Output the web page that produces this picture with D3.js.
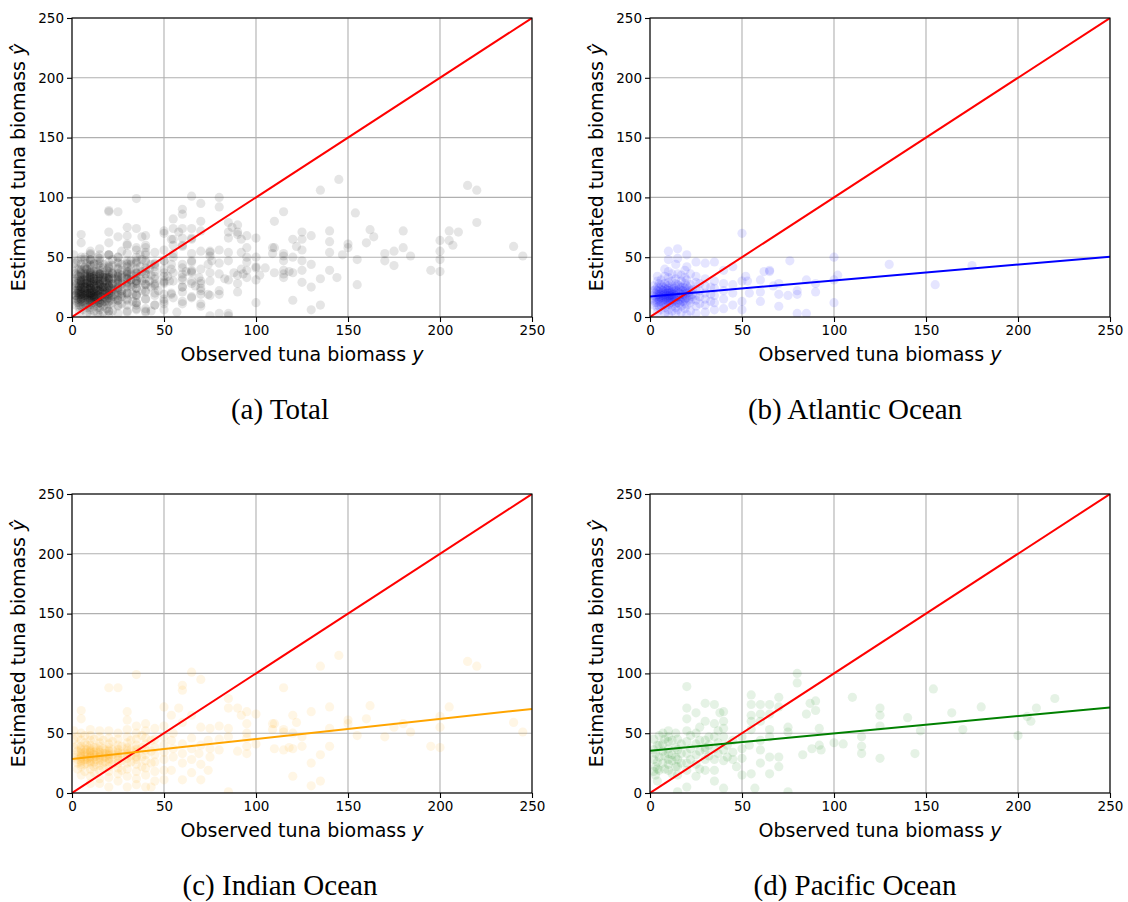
<!DOCTYPE html>
<html>
<head>
<meta charset="utf-8">
<script src="https://cdn.jsdelivr.net/npm/d3@7/dist/d3.min.js"></script>
<style>
body { margin: 0; background: #fff; }
</style>
</head>
<body>
<div id="chart"></div>
<script>
// observed biomass x -> estimated biomass values at that x
var atlanticCols = [
    [2, [10, 14, 18, 22, 26]],
    [3, [12, 15, 17, 20, 23]],
    [4, [4, 8, 12, 16, 19, 22, 25, 30, 34]],
    [5, [9, 13, 15, 17, 19, 21, 24, 28]],
    [6, [6, 10, 13, 16, 18, 20, 23, 27, 31]],
    [7, [11, 14, 16, 18, 20, 22, 25]],
    [8, [3, 8, 12, 15, 17, 19, 21, 24, 28, 34, 40]],
    [9, [10, 14, 16, 18, 20, 23, 26]],
    [10, [2, 6, 10, 13, 15, 17, 18, 20, 22, 24, 26, 29, 33, 38, 48, 55]],
    [11, [12, 14, 16, 18, 20, 22]],
    [12, [5, 9, 12, 15, 17, 19, 21, 23, 26, 30, 36]],
    [13, [13, 15, 17, 19, 21, 24]],
    [14, [3, 8, 11, 14, 16, 18, 20, 22, 25, 28, 32, 44]],
    [15, [6, 12, 17, 21, 27, 36, 49, 57]],
    [16, [11, 14, 17, 20, 23, 26]],
    [17, [4, 9, 13, 16, 19, 22, 25, 30, 35]],
    [18, [13, 16, 19, 22, 25]],
    [19, [7, 11, 15, 18, 21, 24, 28, 33, 39]],
    [20, [2, 10, 16, 20, 26, 31, 42, 52]],
    [21, [14, 18, 21, 24]],
    [22, [5, 12, 17, 22, 27, 36]],
    [23, [15, 19, 23]],
    [25, [3, 9, 14, 18, 23, 29, 34, 46]],
    [27, [11, 17, 22, 28]],
    [30, [4, 10, 15, 20, 26, 32, 45]],
    [33, [13, 19, 25]],
    [35, [6, 12, 18, 24, 30, 46]],
    [40, [7, 15, 22, 28, 39]],
    [45, [10, 20, 27, 42]],
    [50, [6, 13, 30, 70]],
    [52, [34]], [53, [30]], [54, [20]],
    [60, [13, 21, 31]], [62, [38]], [65, [38, 39]], [67, [26]],
    [70, [9, 19, 28]], [75, [18]], [76, [47]], [80, [3, 19, 22]],
    [85, [3, 31]], [90, [21, 28]], [100, [12, 31, 50]], [102, [35]],
    [130, [44]], [155, [27]], [175, [43]]
];

var indianCols = [
    [1, [30, 38, 45, 52]],
    [3, [20, 25, 28, 32, 35, 40, 47]],
    [5, [15, 22, 24, 26, 27, 29, 30, 31, 33, 34, 36, 37, 39, 44, 50, 62, 69]],
    [7, [18, 24, 28, 31, 34, 37, 42, 48]],
    [8, [25, 28, 30, 33, 36, 40]],
    [10, [8, 14, 20, 24, 26, 27, 29, 30, 31, 33, 34, 35, 36, 37, 40, 44, 48, 53]],
    [12, [17, 22, 26, 30, 32, 34, 38, 45]],
    [13, [24, 28, 31, 35, 38]],
    [15, [8, 12, 19, 23, 27, 28, 30, 31, 32, 34, 35, 36, 39, 42, 47, 52]],
    [17, [21, 25, 29, 33, 37, 44]],
    [18, [26, 30, 33, 36]],
    [20, [5, 13, 18, 22, 26, 28, 29, 31, 32, 33, 35, 36, 38, 41, 46, 52, 88]],
    [22, [24, 28, 32, 36, 43]],
    [25, [10, 16, 21, 25, 28, 30, 31, 33, 34, 36, 37, 40, 45, 50, 88]],
    [27, [19, 27, 33, 39]],
    [30, [5, 14, 20, 25, 29, 32, 33, 35, 37, 38, 42, 47, 53, 61, 68]],
    [32, [26, 31, 36, 44]],
    [35, [7, 12, 18, 24, 28, 30, 31, 34, 36, 37, 40, 45, 50, 56, 99]],
    [38, [22, 30, 38, 48]],
    [40, [5, 15, 21, 27, 32, 36, 41, 46, 52, 58]],
    [43, [5, 25, 35, 44]],
    [45, [10, 18, 26, 32, 38, 45, 54]],
    [50, [11, 19, 28, 34, 40, 47, 56, 72]],
    [54, [19, 44, 65]], [55, [30, 37, 50]], [58, [71]],
    [60, [11, 25, 33, 41, 59, 86, 90]],
    [65, [17, 28, 37, 46, 65, 101]], [69, [33]],
    [70, [11, 24, 40, 55, 95]], [74, [19, 44]], [75, [30, 37, 54]],
    [80, [36, 45, 56]], [85, [1, 47, 54, 71, 79]],
    [90, [35, 71]], [92, [65]], [95, [33, 39, 46, 50, 58, 68]],
    [100, [41, 66]], [109, [53, 58]], [110, [37, 58]],
    [115, [36, 51, 53, 88]], [118, [38]], [120, [14, 37, 50, 65]],
    [122, [59]], [125, [39, 47]], [130, [6, 25, 68]],
    [135, [10, 32, 106]], [140, [39, 54, 72]], [145, [115]],
    [150, [58, 61]], [155, [48]], [160, [62]], [162, [73]],
    [170, [47]], [175, [55]], [180, [58]], [184, [51]],
    [195, [39]], [200, [38, 55, 64]], [205, [72]],
    [215, [110]], [220, [106]], [240, [59]], [245, [51]]
];

var pacificCols = [
    [2, [18, 28, 36, 45]], [3, [15, 22, 33]], [4, [10, 20, 26, 40]],
    [5, [19, 30, 40, 48]], [7, [25, 35, 41, 50]], [8, [20, 31, 45]],
    [10, [19, 24, 28, 33, 37, 43, 47, 52]], [12, [16, 27, 32, 44]],
    [14, [22, 30, 38, 50]], [15, [1, 15, 22, 28, 36, 45]],
    [17, [25, 33, 41]], [20, [5, 19, 25, 33, 43, 52, 62, 71, 89]],
    [22, [28, 37, 48]], [25, [14, 24, 32, 41, 50, 67]],
    [27, [20, 35, 44, 55]], [30, [19, 28, 36, 38, 44, 60, 75]],
    [32, [31, 40, 47]], [35, [10, 19, 28, 37, 47, 58, 74]],
    [37, [33, 42, 52]], [38, [67]], [40, [4, 27, 36, 47, 54, 60, 68]],
    [42, [30, 40]], [45, [28, 34, 44]], [47, [22]],
    [50, [15, 29, 37, 47]], [54, [40]], [55, [16, 53, 60, 65, 74, 82]],
    [57, [4]], [60, [25, 36, 44, 60, 66, 74]],
    [65, [16, 30, 47, 53, 66, 74]], [70, [22, 30, 72, 80]],
    [75, [1, 51, 55]], [80, [92, 100]], [83, [32]], [85, [66]],
    [87, [75]], [88, [37]], [90, [69, 77]], [92, [40, 54]], [93, [36]],
    [100, [42]], [105, [41]], [110, [80]], [115, [33, 39, 47]],
    [125, [29, 56, 65, 71]], [140, [63]], [144, [33]], [147, [52]],
    [154, [87]], [164, [67]], [170, [53]], [180, [72]], [200, [48]],
    [205, [64]], [207, [60]], [210, [71]], [220, [79]]
];

// linear fits: [intercept, slope]
var fitAtlantic = [17.2, 0.133];
var fitIndian = [28.5, 0.167];
var fitPacific = [35.3, 0.145];

var axisTicks = [0, 50, 100, 150, 200, 250];
var captions = ["(a) Total", "(b) Atlantic Ocean", "(c) Indian Ocean", "(d) Pacific Ocean"];

function flatten(cols) {
    var out = [];
    cols.forEach(function (c) {
        c[1].forEach(function (v) {
            out.push({x: c[0], y: v});
        });
    });
    return out;
}

var panels = [
    {points: flatten(atlanticCols).concat(flatten(indianCols), flatten(pacificCols)), color: "black", fit: null},
    {points: flatten(atlanticCols), color: "blue", fit: fitAtlantic},
    {points: flatten(indianCols), color: "orange", fit: fitIndian},
    {points: flatten(pacificCols), color: "green", fit: fitPacific}
];

var svgW = 1128, svgH = 902;
var plotW = 460, plotH = 299;
var origins = [[72, 18], [650, 18], [72, 494], [650, 494]];
// captions sit under the whole sub-figure, not the plot box
var captionX = [280, 855, 280, 855];

var svg = d3.select("#chart").append("svg")
    .attr("width", svgW)
    .attr("height", svgH)
    .style("font-family", "'DejaVu Sans', sans-serif");

var x = d3.scaleLinear().domain([0, 250]).range([0, plotW]);
var y = d3.scaleLinear().domain([0, 250]).range([plotH, 0]);

panels.forEach(function (p, i) {
    var g = svg.append("g")
        .attr("transform", "translate(" + origins[i][0] + "," + origins[i][1] + ")");

    g.append("clipPath")
        .attr("id", "clip" + i)
        .append("rect")
        .attr("width", plotW)
        .attr("height", plotH);

    // grid
    g.selectAll(".gx").data(axisTicks).enter().append("line")
        .attr("x1", function (d) { return x(d); })
        .attr("x2", function (d) { return x(d); })
        .attr("y1", 0).attr("y2", plotH)
        .attr("stroke", "#b0b0b0").attr("stroke-width", 1.1);
    g.selectAll(".gy").data(axisTicks).enter().append("line")
        .attr("y1", function (d) { return y(d); })
        .attr("y2", function (d) { return y(d); })
        .attr("x1", 0).attr("x2", plotW)
        .attr("stroke", "#b0b0b0").attr("stroke-width", 1.1);

    var plot = g.append("g").attr("clip-path", "url(#clip" + i + ")");

    plot.selectAll("circle").data(p.points).enter().append("circle")
        .attr("cx", function (d) { return x(d.x); })
        .attr("cy", function (d) { return y(d.y); })
        .attr("r", 4.6)
        .attr("fill", p.color)
        .attr("fill-opacity", 0.1);

    plot.append("line")
        .attr("x1", x(0)).attr("y1", y(0))
        .attr("x2", x(250)).attr("y2", y(250))
        .attr("stroke", "red").attr("stroke-width", 2);

    if (p.fit) {
        plot.append("line")
            .attr("x1", x(0)).attr("y1", y(p.fit[0]))
            .attr("x2", x(250)).attr("y2", y(p.fit[0] + p.fit[1] * 250))
            .attr("stroke", p.color).attr("stroke-width", 2);
    }

    var xAxis = g.append("g")
        .attr("transform", "translate(0," + plotH + ")")
        .call(d3.axisBottom(x).tickValues(axisTicks).tickSize(5).tickPadding(3));
    var yAxis = g.append("g")
        .call(d3.axisLeft(y).tickValues(axisTicks).tickSize(5).tickPadding(3));

    [xAxis, yAxis].forEach(function (a) {
        a.select(".domain").remove();
        a.selectAll("text")
            .attr("fill", "#000")
            .style("font-size", "13.5px")
            .style("font-family", "'DejaVu Sans', sans-serif");
        a.selectAll("line").attr("stroke", "#000").attr("stroke-width", 1.1);
    });

    g.append("rect")
        .attr("width", plotW).attr("height", plotH)
        .attr("fill", "none").attr("stroke", "#000").attr("stroke-width", 1.1);

    var xl = g.append("text")
        .attr("x", plotW / 2).attr("y", plotH + 44)
        .attr("text-anchor", "middle")
        .style("font-size", "19px");
    xl.append("tspan").text("Observed tuna biomass ");
    xl.append("tspan").style("font-style", "italic").text("y");

    var yl = g.append("text")
        .attr("transform", "translate(-47," + plotH / 2 + ") rotate(-90)")
        .attr("text-anchor", "middle")
        .style("font-size", "19px");
    yl.append("tspan").text("Estimated tuna biomass ");
    yl.append("tspan").style("font-style", "italic").text("\u0177");

    g.append("text")
        .attr("x", captionX[i] - origins[i][0]).attr("y", plotH + 102)
        .attr("text-anchor", "middle")
        .style("font-family", "'Liberation Serif', 'Times New Roman', serif")
        .style("font-size", "29px")
        .text(captions[i]);
});
</script>
</body>
</html>
